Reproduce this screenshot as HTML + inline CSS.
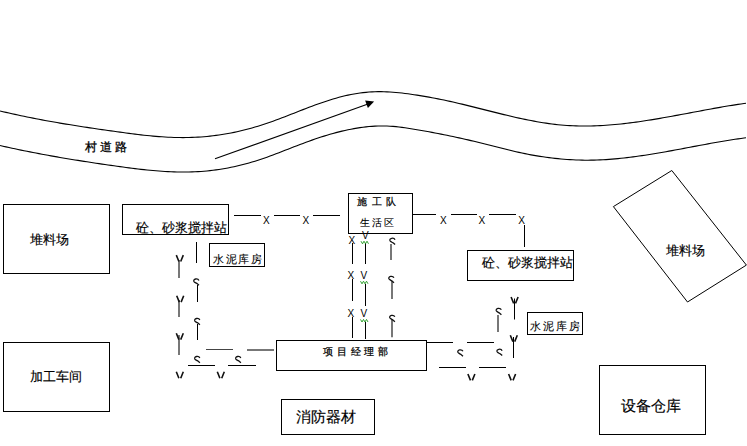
<!DOCTYPE html>
<html><head><meta charset="utf-8">
<style>
html,body{margin:0;padding:0;background:#fff;}
body{width:747px;height:446px;overflow:hidden;position:relative;font-family:"Liberation Sans",sans-serif;}
svg{position:absolute;left:0;top:0;}
.t{font-family:"Liberation Sans",sans-serif;fill:#000;stroke:#000;stroke-width:0.15px;}
.s{font-family:"Liberation Serif",serif;fill:#000;font-weight:normal;stroke:#000;stroke-width:0.1px;}
.m{font-family:"Liberation Sans",sans-serif;fill:#000;font-size:10px;}
</style></head>
<body>
<svg width="747" height="446" viewBox="0 0 747 446">
<rect x="0" y="0" width="747" height="446" fill="#fff"/>
<!-- road -->
<g fill="none" stroke="#000" stroke-width="1.1">
<path id="ru" d="M0.0,110.95 L3.0,111.67 L6.0,112.37 L9.0,113.06 L12.0,113.74 L15.0,114.41 L18.0,115.06 L21.0,115.70 L24.0,116.33 L27.0,116.95 L30.0,117.56 L33.0,118.15 L36.0,118.74 L39.0,119.32 L42.0,119.88 L45.0,120.44 L48.0,120.98 L51.0,121.52 L54.0,122.05 L57.0,122.57 L60.0,123.09 L63.0,123.59 L66.0,124.09 L69.0,124.58 L72.0,125.06 L75.0,125.54 L78.0,126.01 L81.0,126.48 L84.0,126.94 L87.0,127.40 L90.0,127.85 L93.0,128.30 L96.0,128.74 L99.0,129.18 L102.0,129.61 L105.0,130.04 L108.0,130.47 L111.0,130.90 L114.0,131.32 L117.0,131.75 L120.0,132.16 L123.0,132.58 L126.0,132.98 L129.0,133.38 L132.0,133.77 L135.0,134.14 L138.0,134.51 L141.0,134.86 L144.0,135.20 L147.0,135.52 L150.0,135.82 L153.0,136.10 L156.0,136.36 L159.0,136.60 L162.0,136.82 L165.0,137.01 L168.0,137.18 L171.0,137.32 L174.0,137.43 L177.0,137.51 L180.0,137.56 L183.0,137.58 L186.0,137.56 L189.0,137.51 L192.0,137.42 L195.0,137.30 L198.0,137.13 L201.0,136.94 L204.0,136.70 L207.0,136.43 L210.0,136.12 L213.0,135.78 L216.0,135.40 L219.0,134.98 L222.0,134.53 L225.0,134.04 L228.0,133.51 L231.0,132.95 L234.0,132.35 L237.0,131.71 L240.0,131.03 L243.0,130.32 L246.0,129.57 L249.0,128.78 L252.0,127.96 L255.0,127.09 L258.0,126.19 L261.0,125.26 L264.0,124.28 L267.0,123.27 L270.0,122.23 L273.0,121.16 L276.0,120.06 L279.0,118.94 L282.0,117.80 L285.0,116.65 L288.0,115.49 L291.0,114.32 L294.0,113.14 L297.0,111.96 L300.0,110.79 L303.0,109.62 L306.0,108.46 L309.0,107.31 L312.0,106.18 L315.0,105.07 L318.0,103.99 L321.0,102.93 L324.0,101.90 L327.0,100.90 L330.0,99.95 L333.0,99.03 L336.0,98.16 L339.0,97.33 L342.0,96.56 L345.0,95.83 L348.0,95.16 L351.0,94.55 L354.0,93.99 L357.0,93.49 L360.0,93.04 L363.0,92.66 L366.0,92.33 L369.0,92.07 L372.0,91.87 L375.0,91.74 L378.0,91.67 L381.0,91.67 L384.0,91.72 L387.0,91.83 L390.0,91.99 L393.0,92.20 L396.0,92.45 L399.0,92.74 L402.0,93.07 L405.0,93.43 L408.0,93.82 L411.0,94.24 L414.0,94.67 L417.0,95.13 L420.0,95.60 L423.0,96.10 L426.0,96.61 L429.0,97.15 L432.0,97.70 L435.0,98.27 L438.0,98.85 L441.0,99.46 L444.0,100.08 L447.0,100.72 L450.0,101.37 L453.0,102.05 L456.0,102.73 L459.0,103.43 L462.0,104.15 L465.0,104.87 L468.0,105.61 L471.0,106.35 L474.0,107.10 L477.0,107.85 L480.0,108.61 L483.0,109.37 L486.0,110.12 L489.0,110.88 L492.0,111.64 L495.0,112.39 L498.0,113.14 L501.0,113.88 L504.0,114.61 L507.0,115.33 L510.0,116.04 L513.0,116.74 L516.0,117.42 L519.0,118.09 L522.0,118.74 L525.0,119.37 L528.0,119.99 L531.0,120.58 L534.0,121.15 L537.0,121.69 L540.0,122.21 L543.0,122.70 L546.0,123.16 L549.0,123.59 L552.0,123.99 L555.0,124.36 L558.0,124.69 L561.0,124.98 L564.0,125.24 L567.0,125.46 L570.0,125.64 L573.0,125.79 L576.0,125.90 L579.0,125.98 L582.0,126.02 L585.0,126.03 L588.0,126.01 L591.0,125.96 L594.0,125.88 L597.0,125.77 L600.0,125.63 L603.0,125.46 L606.0,125.27 L609.0,125.06 L612.0,124.81 L615.0,124.55 L618.0,124.26 L621.0,123.95 L624.0,123.62 L627.0,123.27 L630.0,122.90 L633.0,122.51 L636.0,122.10 L639.0,121.68 L642.0,121.24 L645.0,120.79 L648.0,120.33 L651.0,119.85 L654.0,119.36 L657.0,118.86 L660.0,118.34 L663.0,117.82 L666.0,117.29 L669.0,116.76 L672.0,116.21 L675.0,115.66 L678.0,115.11 L681.0,114.55 L684.0,113.99 L687.0,113.43 L690.0,112.86 L693.0,112.30 L696.0,111.73 L699.0,111.17 L702.0,110.61 L705.0,110.05 L708.0,109.50 L711.0,108.95 L714.0,108.41 L717.0,107.88 L720.0,107.35 L723.0,106.83 L726.0,106.32 L729.0,105.83 L732.0,105.34 L735.0,104.86 L738.0,104.40 L741.0,103.96 L744.0,103.52 L746.0,103.24"/>
<path id="rl" d="M0.0,145.54 L3.0,146.22 L6.0,146.89 L9.0,147.54 L12.0,148.19 L15.0,148.83 L18.0,149.47 L21.0,150.09 L24.0,150.70 L27.0,151.30 L30.0,151.90 L33.0,152.49 L36.0,153.07 L39.0,153.64 L42.0,154.20 L45.0,154.76 L48.0,155.30 L51.0,155.85 L54.0,156.38 L57.0,156.91 L60.0,157.43 L63.0,157.94 L66.0,158.45 L69.0,158.95 L72.0,159.44 L75.0,159.93 L78.0,160.41 L81.0,160.89 L84.0,161.36 L87.0,161.83 L90.0,162.29 L93.0,162.75 L96.0,163.20 L99.0,163.65 L102.0,164.09 L105.0,164.53 L108.0,164.96 L111.0,165.40 L114.0,165.82 L117.0,166.25 L120.0,166.66 L123.0,167.08 L126.0,167.48 L129.0,167.87 L132.0,168.26 L135.0,168.63 L138.0,168.99 L141.0,169.34 L144.0,169.67 L147.0,169.98 L150.0,170.28 L153.0,170.56 L156.0,170.82 L159.0,171.05 L162.0,171.27 L165.0,171.46 L168.0,171.62 L171.0,171.76 L174.0,171.88 L177.0,171.96 L180.0,172.01 L183.0,172.04 L186.0,172.03 L189.0,171.98 L192.0,171.91 L195.0,171.79 L198.0,171.64 L201.0,171.45 L204.0,171.22 L207.0,170.95 L210.0,170.64 L213.0,170.29 L216.0,169.90 L219.0,169.46 L222.0,168.99 L225.0,168.47 L228.0,167.92 L231.0,167.32 L234.0,166.69 L237.0,166.02 L240.0,165.30 L243.0,164.55 L246.0,163.76 L249.0,162.93 L252.0,162.06 L255.0,161.16 L258.0,160.21 L261.0,159.23 L264.0,158.22 L267.0,157.16 L270.0,156.08 L273.0,154.97 L276.0,153.84 L279.0,152.69 L282.0,151.53 L285.0,150.36 L288.0,149.19 L291.0,148.01 L294.0,146.84 L297.0,145.68 L300.0,144.54 L303.0,143.41 L306.0,142.30 L309.0,141.21 L312.0,140.14 L315.0,139.10 L318.0,138.09 L321.0,137.10 L324.0,136.14 L327.0,135.22 L330.0,134.33 L333.0,133.47 L336.0,132.65 L339.0,131.87 L342.0,131.13 L345.0,130.43 L348.0,129.78 L351.0,129.17 L354.0,128.61 L357.0,128.10 L360.0,127.63 L363.0,127.22 L366.0,126.87 L369.0,126.57 L372.0,126.33 L375.0,126.14 L378.0,126.02 L381.0,125.96 L384.0,125.97 L387.0,126.04 L390.0,126.18 L393.0,126.39 L396.0,126.66 L399.0,126.98 L402.0,127.36 L405.0,127.77 L408.0,128.21 L411.0,128.68 L414.0,129.17 L417.0,129.67 L420.0,130.18 L423.0,130.70 L426.0,131.24 L429.0,131.79 L432.0,132.35 L435.0,132.92 L438.0,133.50 L441.0,134.10 L444.0,134.70 L447.0,135.32 L450.0,135.94 L453.0,136.58 L456.0,137.22 L459.0,137.88 L462.0,138.54 L465.0,139.21 L468.0,139.90 L471.0,140.59 L474.0,141.29 L477.0,142.00 L480.0,142.72 L483.0,143.46 L486.0,144.20 L489.0,144.95 L492.0,145.71 L495.0,146.47 L498.0,147.24 L501.0,148.00 L504.0,148.76 L507.0,149.51 L510.0,150.25 L513.0,150.98 L516.0,151.68 L519.0,152.37 L522.0,153.03 L525.0,153.66 L528.0,154.26 L531.0,154.84 L534.0,155.38 L537.0,155.89 L540.0,156.37 L543.0,156.82 L546.0,157.25 L549.0,157.64 L552.0,158.01 L555.0,158.35 L558.0,158.66 L561.0,158.95 L564.0,159.21 L567.0,159.44 L570.0,159.65 L573.0,159.82 L576.0,159.96 L579.0,160.07 L582.0,160.15 L585.0,160.19 L588.0,160.20 L591.0,160.17 L594.0,160.12 L597.0,160.03 L600.0,159.91 L603.0,159.76 L606.0,159.59 L609.0,159.39 L612.0,159.16 L615.0,158.90 L618.0,158.62 L621.0,158.32 L624.0,158.00 L627.0,157.65 L630.0,157.29 L633.0,156.90 L636.0,156.50 L639.0,156.08 L642.0,155.64 L645.0,155.19 L648.0,154.73 L651.0,154.25 L654.0,153.75 L657.0,153.25 L660.0,152.74 L663.0,152.21 L666.0,151.68 L669.0,151.14 L672.0,150.59 L675.0,150.04 L678.0,149.48 L681.0,148.92 L684.0,148.36 L687.0,147.79 L690.0,147.22 L693.0,146.66 L696.0,146.09 L699.0,145.53 L702.0,144.97 L705.0,144.42 L708.0,143.86 L711.0,143.32 L714.0,142.78 L717.0,142.25 L720.0,141.73 L723.0,141.22 L726.0,140.72 L729.0,140.23 L732.0,139.76 L735.0,139.30 L738.0,138.85 L741.0,138.42 L744.0,138.01 L746.0,137.74"/>
<line x1="215" y1="158.8" x2="368" y2="104"/>
</g>
<polygon points="374.1,101.5 365.1,100.4 367.9,107.9" fill="#000"/>

<!-- boxes -->
<g fill="none" stroke="#000" stroke-width="1">
<rect x="3.5" y="204.5" width="106" height="69"/>
<rect x="3.5" y="342.5" width="106" height="69"/>
<rect x="122.5" y="204.5" width="106" height="30"/>
<rect x="209.5" y="243.5" width="55" height="23"/>
<rect x="348.5" y="193.5" width="64" height="40"/>
<rect x="467.5" y="250.5" width="106" height="30"/>
<rect x="527.5" y="312.5" width="55" height="22"/>
<rect x="276.5" y="340.5" width="150" height="30"/>
<rect x="281.5" y="399.5" width="93" height="35"/>
<rect x="599.5" y="365.5" width="106" height="69"/>
<polygon points="671.8,170.5 613.4,206.6 687.5,302 746.4,265.1"/>
</g>

<!-- fence lines -->
<g fill="none" stroke="#000" stroke-width="1">
<!-- top left fence -->
<line x1="234" y1="215.5" x2="261" y2="215.5"/>
<line x1="274" y1="215.5" x2="300" y2="215.5"/>
<line x1="313" y1="215.5" x2="340" y2="215.5"/>
<!-- top right fence -->
<line x1="412" y1="214.5" x2="436" y2="214.5"/>
<line x1="451" y1="214.5" x2="477" y2="214.5"/>
<line x1="489" y1="214.5" x2="516" y2="214.5"/>
<line x1="524.5" y1="225" x2="524.5" y2="247"/>
<!-- middle verticals -->
<line x1="352.5" y1="243" x2="352.5" y2="264"/>
<line x1="365.5" y1="243" x2="365.5" y2="264"/>
<line x1="352.5" y1="279" x2="352.5" y2="301"/>
<line x1="365.5" y1="284" x2="365.5" y2="306"/>
<line x1="352.5" y1="317" x2="352.5" y2="338"/>
<line x1="365.5" y1="322" x2="365.5" y2="339"/>
<!-- left verticals (black) -->
<line x1="196.5" y1="242" x2="196.5" y2="263"/>
<line x1="197.5" y1="285" x2="197.5" y2="302"/>
<line x1="197.5" y1="324" x2="197.5" y2="340"/>
<!-- left bottom horizontals -->
<line x1="188" y1="365.5" x2="215" y2="365.5"/>
<line x1="228" y1="365.5" x2="256" y2="365.5"/>
<!-- right -->
<line x1="514.5" y1="298.5" x2="514.5" y2="319.5"/>
<line x1="513.5" y1="337" x2="513.5" y2="358"/>
<line x1="426" y1="342.5" x2="453" y2="342.5"/>
<line x1="467" y1="342.5" x2="494" y2="342.5"/>
<line x1="439" y1="367.5" x2="466" y2="367.5"/>
<line x1="479" y1="367.5" x2="506" y2="367.5"/>
</g>
<g fill="none" stroke="#777" stroke-width="2">
<line x1="391" y1="244" x2="391" y2="260"/>
<line x1="392" y1="281" x2="392" y2="299"/>
<line x1="392" y1="319.7" x2="392" y2="337.3"/>
<line x1="179" y1="260" x2="179" y2="278"/>
<line x1="179" y1="300" x2="179" y2="317"/>
<line x1="179" y1="335" x2="179" y2="355"/>
<line x1="498" y1="315" x2="498" y2="332"/>
<line x1="206" y1="349.5" x2="233" y2="349.5" stroke="#444" stroke-width="1"/>
<line x1="247" y1="350" x2="274" y2="350"/>
</g>

<!-- X marks -->
<g class="m">
<text x="263" y="224">X</text>
<text x="302.5" y="224">X</text>
<text x="440" y="224">X</text>
<text x="478.5" y="224">X</text>
<text x="518.3" y="224">X</text>
<text x="348.4" y="243.5">X</text>
<text x="347.6" y="279">X</text>
<text x="347.6" y="317">X</text>
<text x="362" y="238.5">V</text>
<text x="360.5" y="279">V</text>
<text x="360.5" y="317">V</text>
</g>
<!-- green wavy -->
<g fill="none" stroke="#1f9a1f" stroke-width="0.9">
<polyline points="361,241.2 362.5,243.8 364,241.2 365.5,243.8 367,241.2 368.5,243.8"/>
<polyline points="360.5,281.2 362,283.8 363.5,281.2 365,283.8 366.5,281.2 368,283.8"/>
<polyline points="360.5,319.4 362,322 363.5,319.4 365,322 366.5,319.4 368,322"/>
</g>


<defs>
<path id="vt" d="M0.9,0.2 L3.5,6.6 M7.9,0.2 L5.3,6.6" fill="none" stroke="#111" stroke-width="1.6"/>
<path id="st" d="M5.9,1.7 C5.4,0.5 3.8,0.1 2.6,0.3 C1.1,0.6 0.5,1.6 0.9,2.7 C1.3,3.6 3,4.3 4.3,5.1 L6,6.6" fill="none" stroke="#111" stroke-width="1.3"/>
</defs>
<g>
<use href="#vt" x="175.4" y="254.9"/>
<use href="#vt" x="175.8" y="295.5"/>
<use href="#vt" x="175.4" y="333"/>
<use href="#vt" x="175.4" y="371.6"/>
<use href="#vt" x="216.4" y="371.6"/>
<use href="#vt" x="510.2" y="296.8"/>
<use href="#vt" x="509.4" y="335"/>
<use href="#vt" x="467" y="373.8"/>
<use href="#vt" x="507.7" y="373.8"/>
<use href="#st" x="193" y="278.7"/>
<use href="#st" x="193.9" y="318.2"/>
<use href="#st" x="193.9" y="356.2"/>
<use href="#st" x="234.9" y="356.2"/>
<use href="#st" x="495.4" y="308.1"/>
<use href="#st" x="457" y="349.6"/>
<use href="#st" x="496.2" y="349"/>
<use href="#st" x="389.1" y="238"/>
<use href="#st" x="388" y="276.1"/>
<use href="#st" x="388.9" y="315.1"/>
</g>

<!-- texts -->
<text class="t" x="136" y="232" font-size="13">砼、砂浆搅拌站</text>
<text class="t" x="481.6" y="267" font-size="13">砼、砂浆搅拌站</text>
<text class="t" x="29.5" y="244" font-size="13">堆料场</text>
<text class="t" x="666" y="254.6" font-size="13">堆料场</text>
<text class="t" x="29.8" y="381.2" font-size="13">加工车间</text>
<text class="t" x="295.6" y="422.2" font-size="15">消防器材</text>
<text class="t" x="621.2" y="410.8" font-size="15.4">设备仓库</text>

<text class="s" x="84.6" y="151" font-size="12" letter-spacing="3" style="stroke-width:0.3px">村道路</text>
<text class="s" x="357.3" y="204.6" font-size="9.5" letter-spacing="4.5" style="stroke-width:0.2px">施工队</text>
<text class="s" x="359.8" y="226.2" font-size="9.5" letter-spacing="2.3">生活区</text>
<text class="s" x="213.4" y="263.2" font-size="11" letter-spacing="1.5">水泥库房</text>
<text class="s" x="530.2" y="330" font-size="10.8" letter-spacing="2">水泥库房</text>
<text class="s" x="323" y="355.1" font-size="9.5" letter-spacing="3.8" style="stroke-width:0.25px">项目经理部</text>
</svg>
</body></html>
